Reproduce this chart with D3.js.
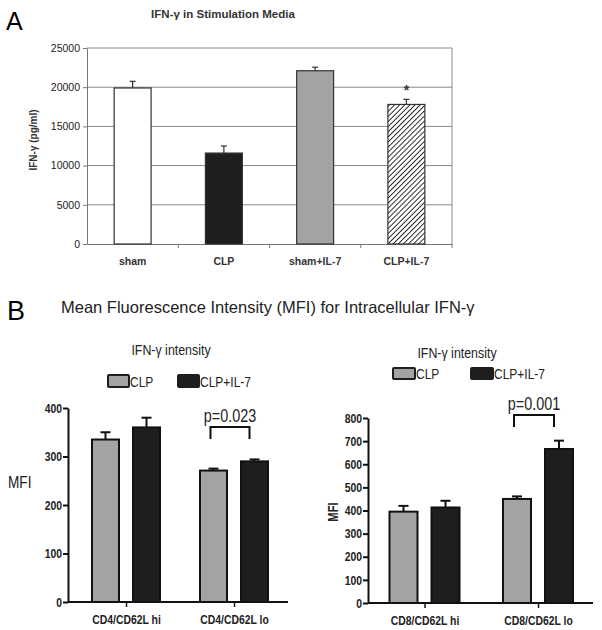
<!DOCTYPE html>
<html><head><meta charset="utf-8">
<script src="https://cdn.jsdelivr.net/npm/d3@7"></script>
<style>body{margin:0;background:#fff}svg{display:block}</style>
</head><body>
<svg id="c" width="602" height="630"></svg>
<script>
// Panel A data
const aCats = ["sham", "CLP", "sham+IL-7", "CLP+IL-7"];
const aValues = [19900, 11600, 22100, 17800];
const aErrors = [850, 900, 450, 650];
const aTicks = [0, 5000, 10000, 15000, 20000, 25000];
// Panel B left (CD4)
const b1Cats = ["CD4/CD62L hi", "CD4/CD62L lo"];
const b1CLP = [335, 271];
const b1CLPerr = [15, 4];
const b1IL7 = [360, 290];
const b1IL7err = [20, 4];
const b1Ticks = [0, 100, 200, 300, 400];
// Panel B right (CD8)
const b2Cats = ["CD8/CD62L hi", "CD8/CD62L lo"];
const b2CLP = [395, 450];
const b2CLPerr = [25, 11];
const b2IL7 = [413, 666];
const b2IL7err = [29, 36];
const b2Ticks = [0, 100, 200, 300, 400, 500, 600, 700, 800];
const seriesNames = ["CLP", "CLP+IL-7"];

const svg = d3.select("#c");
const defs = svg.append("defs");
const pat = defs.append("pattern").attr("id","hatch").attr("patternUnits","userSpaceOnUse")
  .attr("width",3.6).attr("height",3.6).attr("patternTransform","rotate(45)");
pat.append("rect").attr("width",3.6).attr("height",3.6).attr("fill","#fff");
pat.append("line").attr("x1",0).attr("y1",0).attr("x2",0).attr("y2",3.6).attr("stroke","#1a1a1a").attr("stroke-width",1.8);

const SANS = "Arial, 'Liberation Sans', sans-serif";
const NARROW = "'Liberation Sans Narrow', 'Arial Narrow', Arial, sans-serif";
const CONDENSE = 0.8;
function condense(sel){
  sel.each(function(){
    const w = this.getComputedTextLength();
    d3.select(this).attr("textLength", w*CONDENSE).attr("lengthAdjust","spacingAndGlyphs");
  });
  return sel;
}

// ---------- Panel A ----------
svg.append("text").attr("x",6).attr("y",30).attr("font-family",SANS).attr("font-size",25).text("A");
svg.append("text").attr("x",223).attr("y",18).attr("text-anchor","middle").attr("font-family",SANS)
  .attr("font-weight","bold").attr("font-size",11.5).attr("fill","#333").text("IFN-γ in Stimulation Media");

const ax = d3.scaleBand().domain(aCats).range([87,452]);
const ay = d3.scaleLinear().domain([0,25000]).range([244,48]);
const gA = svg.append("g");
gA.selectAll("line.grid").data(aTicks.filter(t=>t>0)).join("line").attr("class","grid")
  .attr("x1",87).attr("x2",452).attr("y1",d=>ay(d)).attr("y2",d=>ay(d))
  .attr("stroke","#8a8a8a").attr("stroke-width",1);
gA.append("line").attr("x1",452).attr("x2",452).attr("y1",ay(25000)).attr("y2",ay(0)).attr("stroke","#8a8a8a");
const yAxA = gA.append("g").attr("transform","translate(87,0)")
  .call(d3.axisLeft(ay).tickValues(aTicks).tickSize(4).tickSizeOuter(0).tickFormat(d3.format("d")));
yAxA.select(".domain").attr("stroke","#777");
yAxA.selectAll(".tick line").attr("stroke","#777");
yAxA.selectAll("text").attr("font-family",SANS).attr("font-size",10.5).attr("fill","#222").attr("x",-7);
const xAxA = gA.append("g").attr("transform",`translate(0,${ay(0)})`)
  .call(d3.axisBottom(ax).tickSize(0).tickSizeOuter(0));
xAxA.select(".domain").attr("stroke","#777");
xAxA.selectAll("text").attr("font-family",SANS).attr("font-weight","bold").attr("font-size",10.5).attr("fill","#333").attr("dy","1.75em");
gA.selectAll("line.bt").data(aCats.slice(1)).join("line").attr("class","bt")
  .attr("x1",d=>ax(d)).attr("x2",d=>ax(d)).attr("y1",ay(0)).attr("y2",ay(0)+4).attr("stroke","#777");
gA.append("line").attr("x1",452).attr("x2",452).attr("y1",ay(0)).attr("y2",ay(0)+4).attr("stroke","#777");
const aFill = ["#ffffff","#1e1e1e","#a3a3a3","url(#hatch)"];
const bwA = ax.bandwidth()*0.405;
gA.selectAll("g.err").data(aCats).join("g").attr("class","err").each(function(d,i){
  const cx = ax(d)+ax.bandwidth()/2;
  const g = d3.select(this);
  g.append("line").attr("x1",cx).attr("x2",cx).attr("y1",ay(aValues[i])).attr("y2",ay(aValues[i]+aErrors[i])).attr("stroke","#333").attr("stroke-width",1.2);
  g.append("line").attr("x1",cx-3).attr("x2",cx+3).attr("y1",ay(aValues[i]+aErrors[i])).attr("y2",ay(aValues[i]+aErrors[i])).attr("stroke","#333").attr("stroke-width",1.2);
});
gA.selectAll("rect.bar").data(aCats).join("rect").attr("class","bar")
  .attr("x",d=>ax(d)+ax.bandwidth()/2-bwA/2).attr("width",bwA)
  .attr("y",(d,i)=>ay(aValues[i])).attr("height",(d,i)=>ay(0)-ay(aValues[i]))
  .attr("fill",(d,i)=>aFill[i]).attr("stroke","#333").attr("stroke-width",1.2);
gA.append("text").attr("x",ax("CLP+IL-7")+ax.bandwidth()/2).attr("y",ay(aValues[3]+aErrors[3])-4)
  .attr("text-anchor","middle").attr("font-family",SANS).attr("font-size",14).attr("font-weight","bold").attr("fill","#333").text("*");
svg.append("text").attr("transform","translate(37,140) rotate(-90)").attr("text-anchor","middle")
  .attr("font-family",SANS).attr("font-weight","bold").attr("font-size",10).attr("fill","#333").text("IFN-γ (pg/ml)");

// ---------- Panel B ----------
svg.append("text").attr("x",7).attr("y",320).attr("font-family",SANS).attr("font-size",27).text("B");
svg.append("text").attr("x",61).attr("y",313).attr("font-family",SANS).attr("font-size",16.5).attr("fill","#222")
  .text("Mean Fluorescence Intensity (MFI) for Intracellular IFN-γ");

function drawB(opt){
  const g = svg.append("g");
  const x = d3.scalePoint().domain(opt.cats).range(opt.xc);
  const y = d3.scaleLinear().domain([0,opt.max]).range([opt.y0,opt.y1]);
  condense(g.append("text").attr("x",opt.subX).attr("y",opt.subY).attr("text-anchor","middle")
    .attr("font-family",NARROW).attr("font-size",15.5).attr("fill","#222").text("IFN-γ intensity"));
  const fills = ["#a3a3a3","#1e1e1e"];
  opt.leg.forEach((lx,i)=>{
    g.append("rect").attr("x",lx).attr("y",opt.legY).attr("width",opt.legW).attr("height",opt.legH)
      .attr("fill",fills[i]).attr("stroke","#1e1e1e").attr("stroke-width",2).attr("rx",1);
    condense(g.append("text").attr("x",lx+opt.legW+1).attr("y",opt.legY+opt.legH)
      .attr("font-family",NARROW).attr("font-size",15).attr("fill","#222").text(seriesNames[i]));
  });
  const ya = g.append("g").attr("transform",`translate(${opt.xAxis0},0)`)
    .call(d3.axisLeft(y).tickValues(opt.ticks).tickSize(5).tickSizeOuter(0));
  ya.select(".domain").attr("stroke","#111").attr("stroke-width",2);
  ya.selectAll(".tick line").attr("stroke","#111").attr("stroke-width",2);
  condense(ya.selectAll("text").attr("font-family",NARROW).attr("font-weight","bold").attr("font-size",13).attr("fill","#222").attr("x",-6));
  const xa = g.append("g").attr("transform",`translate(0,${opt.y0})`)
    .call(d3.axisBottom(x).tickSize(5).tickSizeOuter(0));
  xa.select(".domain").attr("d",`M${opt.xAxis0},0H${opt.xAxis1}`).attr("stroke","#111").attr("stroke-width",2);
  xa.selectAll(".tick line").attr("stroke","#111").attr("stroke-width",1.5);
  condense(xa.selectAll("text").attr("font-family",NARROW).attr("font-weight","bold").attr("font-size",13).attr("fill","#222").attr("dy","1.05em"));
  const series = [[opt.clp,opt.clpErr],[opt.il7,opt.il7Err]];
  series.forEach((s,si)=>{
    opt.cats.forEach((c,ci)=>{
      const cx = x(c) + (si===0?-1:1)*opt.off;
      const v = s[0][ci], e = s[1][ci];
      g.append("line").attr("x1",cx).attr("x2",cx).attr("y1",y(v)).attr("y2",y(v+e)).attr("stroke","#111").attr("stroke-width",2);
      g.append("line").attr("x1",cx-5).attr("x2",cx+5).attr("y1",y(v+e)).attr("y2",y(v+e)).attr("stroke","#111").attr("stroke-width",2);
      g.append("rect").attr("x",cx-opt.bw/2).attr("width",opt.bw).attr("y",y(v)).attr("height",opt.y0-y(v))
        .attr("fill",fills[si]).attr("stroke","#111").attr("stroke-width",2);
    });
  });
  const c2 = opt.cats[1];
  const bx1 = x(c2)-opt.off-3, bx2 = x(c2)+opt.off-5;
  g.append("path").attr("d",`M${bx1},${opt.brY+12}V${opt.brY}H${bx2}V${opt.brY+12}`)
    .attr("fill","none").attr("stroke","#111").attr("stroke-width",2);
  condense(g.append("text").attr("x",(bx1+bx2)/2).attr("y",opt.brY-5).attr("text-anchor","middle")
    .attr("font-family",NARROW).attr("font-size",opt.pSize).attr("fill","#222").text(opt.pText));
  return g;
}

drawB({cats:b1Cats, xc:[126,234], max:400, y0:602, y1:408, ticks:b1Ticks,
  clp:b1CLP, clpErr:b1CLPerr, il7:b1IL7, il7Err:b1IL7err, off:20.5, bw:27,
  xAxis0:68, xAxis1:288, subX:171, subY:355, leg:[108,178], legY:375, legW:21, legH:12,
  brY:427, pText:"p=0.023", pSize:18});
condense(svg.append("text").attr("x",8).attr("y",488).attr("font-family",NARROW).attr("font-size",17).attr("fill","#222").text("MFI"));

drawB({cats:b2Cats, xc:[424.5,538], max:800, y0:603, y1:418, ticks:b2Ticks,
  clp:b2CLP, clpErr:b2CLPerr, il7:b2IL7, il7Err:b2IL7err, off:21, bw:28,
  xAxis0:368, xAxis1:593, subX:457, subY:358, leg:[393,471], legY:368, legW:22, legH:11,
  brY:415, pText:"p=0.001", pSize:18});
condense(svg.append("text").attr("transform","translate(338,512) rotate(-90)").attr("text-anchor","middle")
  .attr("font-family",NARROW).attr("font-weight","bold").attr("font-size",14).attr("fill","#222").text("MFI"));
</script>
</body></html>
